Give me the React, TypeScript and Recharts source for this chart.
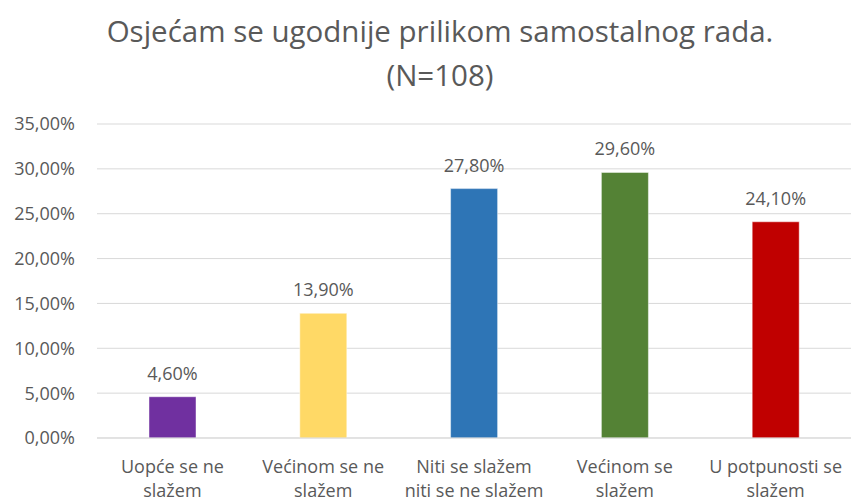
import { BarChart, Bar, XAxis, YAxis, CartesianGrid, Cell, LabelList } from "recharts";

const titleLines = ["Osjećam se ugodnije prilikom samostalnog rada.", "(N=108)"];
const categories = [
  ["Uopće se ne", "slažem"],
  ["Većinom se ne", "slažem"],
  ["Niti se slažem", "niti se ne slažem"],
  ["Većinom se", "slažem"],
  ["U potpunosti se", "slažem"],
];
const percentages = [4.6, 13.9, 27.8, 29.6, 24.1];
const barColors = ["#7030A0", "#FFD966", "#2E75B6", "#548235", "#C00000"];
const yTicks = [0, 5, 10, 15, 20, 25, 30, 35];

const data = categories.map((c, i) => ({
  name: c.join(" "),
  lines: c,
  value: percentages[i],
}));

const FONT = "'Open Sans', sans-serif";
const GREY = "#595959";

const fmt = (v: number) => v.toFixed(2).replace(".", ",") + "%";

const CategoryTick = ({ x, y, payload }: any) => {
  const row = data[payload.index];
  return (
    <text x={x} y={y} textAnchor="middle" fill={GREY} fontSize={18} fontFamily={FONT}>
      <tspan x={x} dy={27}>{row.lines[0]}</tspan>
      <tspan x={x} dy={24}>{row.lines[1]}</tspan>
    </text>
  );
};

export default function App() {
  return (
    <div style={{ position: "absolute", left: 0, top: 0, width: 851, height: 501, background: "#fff", overflow: "hidden" }}>
      <BarChart
        width={851}
        height={501}
        data={data}
        margin={{ top: 124, right: 0, bottom: 3, left: 0 }}
      >
        <CartesianGrid horizontal vertical={false} stroke="#d9d9d9" />
        <XAxis
          dataKey="name"
          height={60}
          axisLine={{ stroke: "#d9d9d9" }}
          tickLine={false}
          interval={0}
          tick={<CategoryTick />}
        />
        <YAxis
          width={97}
          domain={[0, 35]}
          ticks={yTicks}
          axisLine={false}
          tickLine={false}
          tickMargin={16}
          tickFormatter={fmt}
          tick={{ fill: GREY, fontSize: 18, fontFamily: FONT }}
        />
        <Bar dataKey="value" barSize={47} isAnimationActive={false} stroke="rgba(255,255,255,0.45)">
          {data.map((_, i) => (
            <Cell key={i} fill={barColors[i]} />
          ))}
          <LabelList
            dataKey="value"
            position="top"
            offset={17}
            formatter={(v: any) => fmt(Number(v))}
            fill={GREY}
            fontSize={18}
            fontFamily={FONT}
          />
        </Bar>
      </BarChart>
      {/* chart title, two centred lines */}
      <svg width={851} height={100} style={{ position: "absolute", left: 0, top: 0 }}>
        <text x={440} y={42} textAnchor="middle" fill={GREY} fontSize={29.5} fontFamily={FONT}>
          {titleLines[0]}
        </text>
        <text x={440} y={86} textAnchor="middle" fill={GREY} fontSize={29.5} fontFamily={FONT}>
          {titleLines[1]}
        </text>
      </svg>
    </div>
  );
}
